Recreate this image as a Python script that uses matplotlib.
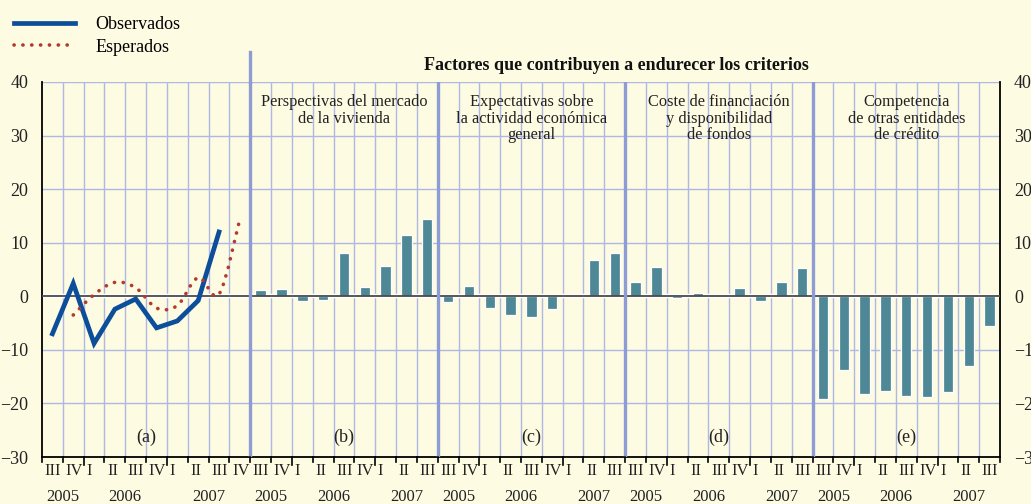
import matplotlib
matplotlib.use("Agg")
import matplotlib.pyplot as plt
from matplotlib.path import Path
from matplotlib.patches import PathPatch
from matplotlib.lines import Line2D
import matplotlib.transforms as mtransforms
import numpy as np

plt.rcParams['font.family'] = ['Liberation Serif', 'DejaVu Serif']

# ---------------- data ----------------
quarters_a = ["III", "IV", "I", "II", "III", "IV", "I", "II", "III", "IV"]
years_a = [("2005", 0, 2), ("2006", 2, 6), ("2007", 6, 10)]
quarters_b = ["III", "IV", "I", "II", "III", "IV", "I", "II", "III"]
years_b = [("2005", 0, 2), ("2006", 2, 6), ("2007", 6, 9)]

observados = [-7.0, 2.4, -8.8, -2.4, -0.5, -5.9, -4.6, -0.8, 12.0]      # 2005Q3..2007Q3
esperados = [-3.5, 0.3, 2.6, 1.6, -2.2, -1.7, 3.5, 0.4, 14.4]          # 2005Q4..2007Q4

vivienda = [1.1, 1.3, -0.9, -0.6, 8.0, 1.8, 5.6, 11.4, 14.4]
actividad = [-1.1, 2.0, -2.2, -3.5, -3.9, -2.3, 0.0, 6.8, 8.0]
financiacion = [2.7, 5.4, -0.4, 0.7, 0.0, 1.6, -0.8, 2.6, 5.3]
competencia = [-19.1, -13.8, -18.3, -17.7, -18.6, -18.8, -17.8, -13.0, -5.6]

panel_titles = ["Perspectivas del mercado\nde la vivienda",
                "Expectativas sobre\nla actividad económica\ngeneral",
                "Coste de financiación\ny disponibilidad\nde fondos",
                "Competencia\nde otras entidades\nde crédito"]
panel_letters = ["(a)", "(b)", "(c)", "(d)", "(e)"]
main_title = "Factores que contribuyen a endurecer los criterios"
yticks = [40, 30, 20, 10, 0, -10, -20, -30]

# ---------------- style ----------------
bg = "#FDFBE2"
grid_c = "#AEB8E2"
sep_c = "#8E9CD5"
bar_c = "#4E8796"
blue = "#0D4E9B"
red = "#B23A2E"

fig = plt.figure(figsize=(10.31, 5.04), dpi=100, facecolor=bg)
ax = fig.add_axes([42/1031, 1-457/504, (1000-42)/1031, (457-82)/504])
ax.set_facecolor(bg)

n_a = len(quarters_a)
n_b = len(quarters_b)
total = n_a + 4 * n_b
ax.set_xlim(0, total)
ax.set_ylim(-30, 40)

# horizontal grid
for yv in yticks:
    if yv != 0:
        ax.axhline(yv, color=grid_c, lw=1.0, zorder=1)
# vertical grid
starts = [0, n_a, n_a + n_b, n_a + 2*n_b, n_a + 3*n_b]
for xv in range(1, total):
    if xv in starts:
        continue
    ax.axvline(xv, color=grid_c, lw=1.0, zorder=1)

# zero line
ax.axhline(0, color="white", lw=3.2, zorder=2)
ax.axhline(0, color="#4A4A46", lw=1.3, zorder=4)

# separators
for s in starts[1:]:
    ax.axvline(s, color=sep_c, lw=2.4, zorder=5)
ax.plot([n_a, n_a], [40, 45.6], color=sep_c, lw=2.4, clip_on=False, zorder=5)

# line panel (a)
xo = np.arange(len(observados)) + 0.5
ax.plot(xo, observados, color=blue, lw=3.4, zorder=6, solid_joinstyle='miter')

xe = np.arange(1, 1 + len(esperados)) + 0.5
pts = np.column_stack([xe, esperados])
verts = [tuple(pts[0])]
codes = [Path.MOVETO]
for i in range(len(pts) - 1):
    p0 = pts[i-1] if i > 0 else pts[i]
    p1 = pts[i]
    p2 = pts[i+1]
    p3 = pts[i+2] if i + 2 < len(pts) else pts[i+1]
    c1 = p1 + (p2 - p0) / 6.0
    c2 = p2 - (p3 - p1) / 6.0
    verts += [tuple(c1), tuple(c2), tuple(p2)]
    codes += [Path.CURVE4] * 3
patch = PathPatch(Path(verts, codes), fill=False, edgecolor=red, lw=2.6,
                  linestyle=(0, (0.05, 2.4)), capstyle='round', zorder=6)
ax.add_patch(patch)

# bars
series = [vivienda, actividad, financiacion, competencia]
for k, vals in enumerate(series):
    x = starts[k+1] + np.arange(len(vals)) + 0.5
    ax.bar(x, vals, width=0.5, color=bar_c, edgecolor="white", lw=0.9, zorder=3)

# panel texts
for k, t in enumerate(panel_titles):
    cx = starts[k+1] + n_b / 2
    ax.text(cx, 37.8, t, ha='center', va='top', fontsize=11.8, linespacing=1.06,
            color="#222222", zorder=7)
for k, t in enumerate(panel_letters):
    cx = starts[k] + (n_a if k == 0 else n_b) / 2
    ax.text(cx, -26.4, t, ha='center', va='center', fontsize=13, color="#222222", zorder=7)

# main title
trans_top = mtransforms.blended_transform_factory(ax.transData, fig.transFigure)
ax.text((n_a + total) / 2 - 0.4, 1 - 66/504, main_title, transform=trans_top,
        ha='center', va='center', fontsize=13, fontweight='bold', color="#111111")

# y axes
ax.set_yticks(yticks)
ax.tick_params(axis='y', length=0, labelsize=13, pad=10, labelcolor="#222222",
               left=True, right=True, labelleft=True, labelright=True)
ax.spines['top'].set_visible(False)
for sp in ['left', 'right', 'bottom']:
    ax.spines[sp].set_color('black')
    ax.spines[sp].set_linewidth(1.3)

# x ticks: boundaries, longer at year start
ax.set_xticks([])
bt = mtransforms.blended_transform_factory(ax.transData, ax.transAxes)
def draw_panel_axis(start, quarters, years):
    for j, q in enumerate(quarters):
        x0 = start + j
        long = (q == "I")
        ax.plot([x0, x0], [0, -0.022 if long else -0.013], transform=bt,
                color='black', lw=1.2, clip_on=False, zorder=7)
        ax.text(x0 + 0.12, -0.037, q, transform=bt, ha='left', va='center',
                fontsize=12, color="#222222")
    for (y, a, b) in years:
        ax.text(start + (a + b) / 2, -0.107, y, transform=bt, ha='center',
                va='center', fontsize=12, color="#222222")

draw_panel_axis(starts[0], quarters_a, years_a)
for k in range(4):
    draw_panel_axis(starts[k+1], quarters_b, years_b)
ax.plot([total, total], [0, -0.013], transform=bt, color='black', lw=1.2, clip_on=False)

# legend
handles = [Line2D([], [], color=blue, lw=3.4),
           Line2D([], [], color=red, lw=2.6, linestyle=(0, (0.05, 2.4)),
                  dash_capstyle='round')]
fig.legend(handles, ["Observados", "Esperados"], loc='upper left',
           bbox_to_anchor=(14/1031, 1 - 16/504), frameon=False, fontsize=13,
           handlelength=3.4, handletextpad=1.1, labelspacing=0.32,
           borderaxespad=0, borderpad=0)

fig.savefig("out.png", dpi=100, facecolor=bg)
